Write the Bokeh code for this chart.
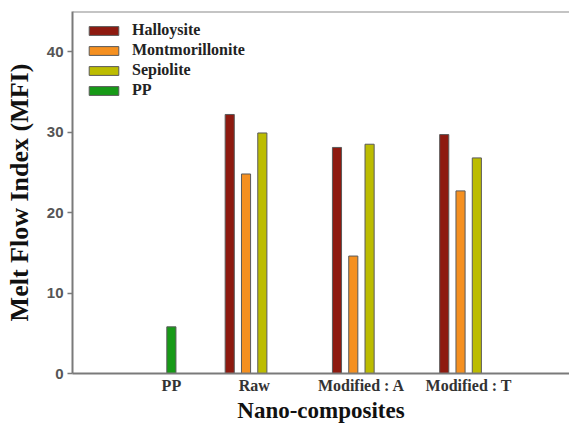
from bokeh.plotting import figure
from bokeh.models import Range1d, FixedTicker, Span, Legend, LegendItem
from bokeh.embed import file_html
from bokeh.resources import INLINE

categories = ["PP", "Raw", "Modified : A", "Modified : T"]
series_names = ["Halloysite", "Montmorillonite", "Sepiolite", "PP"]
halloysite = [None, 32.2, 28.1, 29.7]
montmorillonite = [None, 24.8, 14.6, 22.7]
sepiolite = [None, 29.9, 28.5, 26.8]
pp = [5.8, None, None, None]
y_ticks = [0, 10, 20, 30, 40]

colors = ["#8e1a10", "#f59020", "#bcbc00", "#179a17"]
series = [halloysite, montmorillonite, sepiolite, pp]

slot = 0.152
bar_w = 0.085
x_start, x_end = 0.306, 4.94
y_max = 45.0

p = figure(width=569, height=425, output_backend="svg", toolbar_location=None,
           x_range=Range1d(x_start, x_end), y_range=Range1d(0, y_max),
           min_border_left=72, min_border_right=0, min_border_top=11,
           min_border_bottom=52)
p.xgrid.visible = False
p.ygrid.visible = False
p.outline_line_color = None
p.background_fill_color = "white"
p.border_fill_color = "white"

items = []
for si, (name, vals, col) in enumerate(zip(series_names, series, colors)):
    xs, tops = [], []
    for ci, v in enumerate(vals):
        if v is not None:
            xs.append(ci + 1 + (si - 1.5) * slot)
            tops.append(v)
    r = p.vbar(x=xs, top=tops, bottom=0, width=bar_w, fill_color=col,
               line_color="#5a5a5a", line_width=1)
    items.append(LegendItem(label=name, renderers=[r]))

# tick positions: group centre, or the single bar when only one series present
tick_pos = []
for ci in range(len(categories)):
    present = [si for si, vals in enumerate(series) if vals[ci] is not None]
    if len(present) == 1:
        tick_pos.append(ci + 1 + (present[0] - 1.5) * slot)
    else:
        tick_pos.append(ci + 1)

p.xaxis.ticker = FixedTicker(ticks=tick_pos)
p.xaxis.major_label_overrides = {t: c for t, c in zip(tick_pos, categories)}
p.xaxis.bounds = (x_start, x_end)
p.yaxis.ticker = FixedTicker(ticks=y_ticks)

for ax in (p.xaxis[0], p.yaxis[0]):
    ax.axis_line_color = "#7a7a7a"
    ax.axis_line_width = 2
    ax.minor_tick_line_color = None

p.xaxis.major_tick_line_color = None
p.xaxis.major_tick_out = 0
p.xaxis.major_tick_in = 0
p.xaxis.major_label_standoff = 3
p.xaxis.major_label_text_font = "Liberation Serif"
p.xaxis.major_label_text_font_style = "bold"
p.xaxis.major_label_text_font_size = "16px"
p.xaxis.major_label_text_color = "#333333"
p.xaxis.axis_label = "Nano-composites"
p.xaxis.axis_label_text_font = "Liberation Serif"
p.xaxis.axis_label_text_font_style = "bold"
p.xaxis.axis_label_text_font_size = "23px"
p.xaxis.axis_label_text_color = "#111111"
p.xaxis.axis_label_standoff = 1

p.yaxis.major_tick_line_color = "#7a7a7a"
p.yaxis.major_tick_line_width = 1.5
p.yaxis.major_tick_out = 5
p.yaxis.major_tick_in = 0
p.yaxis.major_label_standoff = 4
p.yaxis.major_label_text_font = "Liberation Sans"
p.yaxis.major_label_text_font_style = "bold"
p.yaxis.major_label_text_font_size = "15px"
p.yaxis.major_label_text_color = "#555555"
p.yaxis.axis_label = "Melt Flow Index (MFI)"
p.yaxis.axis_label_text_font = "Liberation Serif"
p.yaxis.axis_label_text_font_style = "bold"
p.yaxis.axis_label_text_font_size = "26px"
p.yaxis.axis_label_text_color = "#111111"
p.yaxis.axis_label_standoff = 10

top_line = Span(location=y_max, dimension="width", line_color="#8a8a8a", line_width=2)
p.add_layout(top_line)

legend = Legend(items=items, location=(13, 273), orientation="vertical",
                glyph_width=37, glyph_height=11, label_height=20, spacing=0,
                padding=0, margin=0, label_standoff=10,
                label_text_font="Liberation Serif", label_text_font_style="bold",
                label_text_font_size="16px", label_text_color="#222222",
                border_line_color=None, background_fill_alpha=0)
p.add_layout(legend)

open("out.html", "w").write(file_html(p, INLINE))
